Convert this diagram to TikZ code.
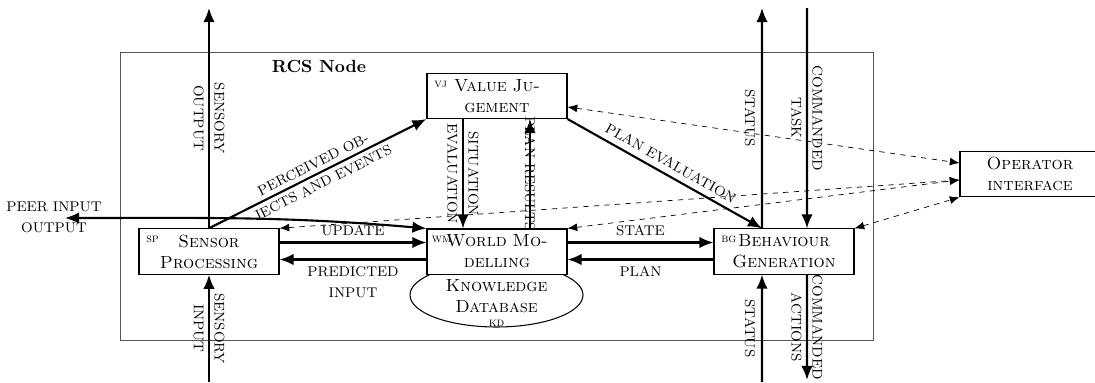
\documentclass[tikz,border=0pt]{standalone}
\usepackage{tikz}
\usetikzlibrary{shapes.geometric, arrows.meta}
\definecolor{FrameGray}{HTML}{555555}

\begin{document}
\begin{tikzpicture}[
		block/.style={draw, fill=white, semithick, align=center, text width=2.5cm, inner xsep=0.15cm, minimum height=0.88cm},
		tag/.style args={#1/#2}{label={[font=\scriptsize, anchor=north west, inner sep=0pt, xshift=#2, yshift=-0.15cm]north west:\textsc{#1}}},
		lbl/.style={font=\linespread{1.25}\footnotesize, align=center},
		flow/.style={very thick, >={Latex[length=8pt, width=6.5pt]}, ->},
		link/.style={dashed, >={Latex[length=5.5pt, width=4.5pt]}, <->}]
		
		\useasboundingbox (0,0) rectangle (21.9,7.64);
		
%		\draw [step=1, gray, opacity=0.3] (0,0) grid (21.9,7.64);
		
		\draw[FrameGray] (2.4,0.84) rectangle (17.46,6.6);
		\node[font=\bfseries] (rcs) at (6.38,6.32) {RCS Node};
		
		\node[draw, ellipse, semithick, minimum width=3.46cm, minimum height=1.28cm] (KD) at (9.93,1.74) {};
		\node[align=center] (KDtext) at (9.93,1.58) {\textsc{Knowledge}\\\textsc{Database}\\[-4pt]{\scriptsize\textsc{kd}}};
		
		\node[block, tag=vj/0.15cm] (VJ) at (9.94,5.72) {\textsc{Value Ju-}\\\textsc{gement}};
		\node[block, tag=sp/0.15cm] (SP) at (4.18,2.61) {\textsc{Sensor}\\\textsc{Processing}};
		\node[block, tag=wm/0.1cm] (WM) at (9.94,2.61) {\textsc{World Mo-}\\\textsc{delling}};
		\node[block, tag=bg/0.15cm] (BG) at (15.68,2.61) {\textsc{Behaviour}\\\textsc{Generation}};
		\node[block] (Op) at (20.6,4.16) {\textsc{Operator}\\\textsc{interface}};
		
		\coordinate (soTop) at (4.18,7.48);
		\coordinate (siBot) at (4.18,0);
		\coordinate (stTop) at (15.24,7.48);
		\coordinate (stBot) at (15.24,0);
		\coordinate (ctTop) at (16.14,7.48);
		\coordinate (caBot) at (16.14,0.04);
		\coordinate (peer) at (1.3,3.28);
		
		% sensory side
		\draw[flow] (SP.north) -- (soTop) node[lbl, midway, rotate=-90] {SENSORY\\OUTPUT};
		\draw[flow] (siBot) -- (SP.south) node[lbl, midway, rotate=-90] {SENSORY\\INPUT};
		\draw[flow] (SP.north) -- (VJ.south west) node[lbl, midway, sloped] {PERCEIVED OB-\\JECTS AND EVENTS};
		
		\node[lbl] (peerlbl) at (1.08,3.29) {PEER INPUT\\OUTPUT};
		\draw[flow, <->] (peer) to[out=0, in=175] (WM.north west);
		
		\draw[flow] ([yshift=0.18cm]SP.east) -- ([yshift=0.18cm]WM.west) node[lbl, midway, above] {UPDATE};
		\draw[flow] ([yshift=-0.16cm]WM.west) -- ([yshift=-0.16cm]SP.east) node[lbl, midway, below] {PREDICTED\\INPUT};
		
		% value judgement
		\draw[flow] ([xshift=-0.68cm]VJ.south) -- ([xshift=-0.68cm]WM.north) node[lbl, midway, rotate=-90] {SITUATION\\EVALUATION};
		\draw[flow] ([xshift=0.66cm]WM.north) -- ([xshift=0.66cm]VJ.south) node[lbl, midway, rotate=-90] {PLAN RESULTS};
		\draw[flow] (VJ.south east) -- ([xshift=-0.44cm]BG.north) node[lbl, midway, sloped, above] {PLAN EVALUATION};
		
		% behaviour generation
		\draw[flow] ([yshift=0.18cm]WM.east) -- ([yshift=0.18cm]BG.west) node[lbl, midway, above] {STATE};
		\draw[flow] ([yshift=-0.16cm]BG.west) -- ([yshift=-0.16cm]WM.east) node[lbl, midway, below] {PLAN};
		
		\draw[flow] ([xshift=-0.44cm]BG.north) -- (stTop) node[lbl, midway, rotate=-90, anchor=north] {STATUS};
		\draw[flow] (ctTop) -- ([xshift=0.46cm]BG.north) node[lbl, midway, rotate=-90] {COMMANDED\\TASK};
		\draw[flow] (stBot) -- ([xshift=-0.44cm]BG.south) node[lbl, midway, rotate=-90, anchor=north] {STATUS};
		\draw[flow] ([xshift=0.46cm]BG.south) -- (caBot) node[lbl, midway, rotate=-90] {COMMANDED\\ACTIONS};
		
		% operator
		\draw[link] ([yshift=-0.22cm]VJ.east) -- ([yshift=0.22cm]Op.west);
		\draw[link] (SP.north east) -- ([yshift=-0.12cm]Op.west);
		\draw[link] (WM.north east) -- ([yshift=-0.12cm]Op.west);
		\draw[link] (BG.north east) -- (Op.south west);
	\end{tikzpicture}
\end{document}
